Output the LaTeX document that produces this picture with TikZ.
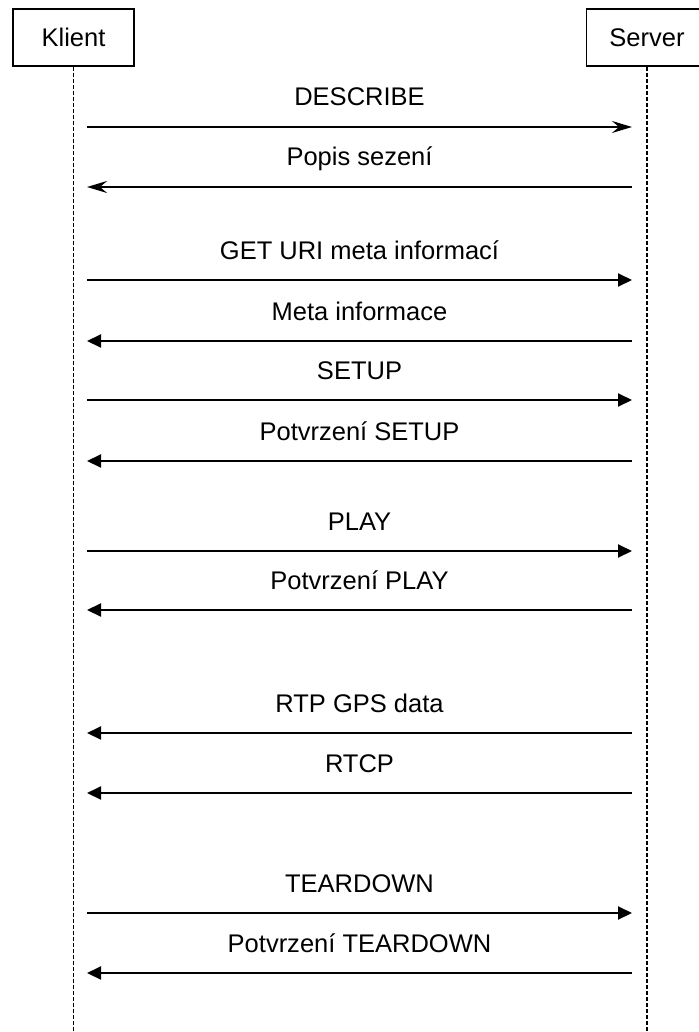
\documentclass[tikz,border=0pt]{standalone}
\usepackage{fontspec}
\setmainfont{Liberation Sans}
\usetikzlibrary{arrows.meta}

\begin{document}
\begin{tikzpicture}[
    x=1pt, y=-1pt,
    every node/.style={font=\fontsize{25.5}{30}\selectfont},
    party/.style={draw, line width=1.5pt, minimum width=121pt, minimum height=57pt, inner sep=0pt},
    lifeline/.style={draw, dash pattern=on 4pt off 2pt, line width=1.4pt},
    msg/.style={draw, line width=2pt, -{Triangle[length=14pt, width=13pt]}},
    msgopen/.style={draw, line width=2pt, -{Stealth[length=20pt, width=12pt, inset=7pt]}},
    lbl/.style={anchor=base, yshift=21pt, inner sep=0pt}
]
\useasboundingbox (0,0) rectangle (698,1032);
\node[party] (klient) at (73.5,37.5) {Klient};
\node[party] (server) at (647,37.5) {Server};
\coordinate (bottom) at (0,1032);
\draw[lifeline] (klient.south) -- (klient.south |- bottom);
\draw[lifeline] (server.south) -- (server.south |- bottom);
% zpravy
\foreach \y/\from/\to/\txt/\tip [count=\i] in {
    127/k/s/DESCRIBE/msgopen,
    187/s/k/Popis sezení/msgopen,
    280/k/s/GET URI meta informací/msg,
    341/s/k/Meta informace/msg,
    400/k/s/SETUP/msg,
    461/s/k/Potvrzení SETUP/msg,
    551/k/s/PLAY/msg,
    610/s/k/Potvrzení PLAY/msg,
    733/s/k/RTP GPS data/msg,
    793/s/k/RTCP/msg,
    913/k/s/TEARDOWN/msg,
    973/s/k/Potvrzení TEARDOWN/msg}
{
    \coordinate (k\i) at (87,\y);
    \coordinate (s\i) at (632,\y);
    \draw[\tip] (\from\i) -- node[lbl] {\txt} (\to\i);
}
\end{tikzpicture}
\end{document}
